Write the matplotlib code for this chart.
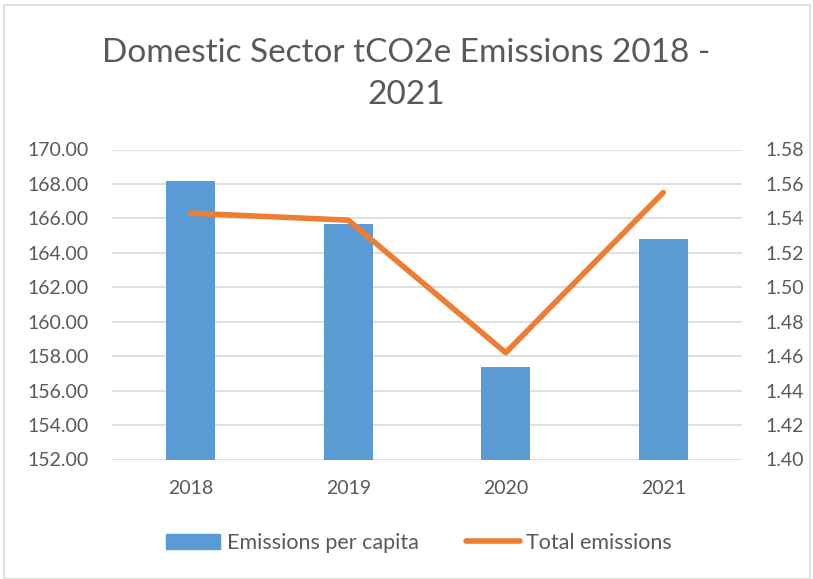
import matplotlib
matplotlib.use("Agg")
import matplotlib.pyplot as plt
from matplotlib.patches import Rectangle
from matplotlib.lines import Line2D

years = ["2018", "2019", "2020", "2021"]
per_capita = [168.2, 165.7, 157.4, 164.8]
total_emissions = [1.543, 1.539, 1.462, 1.555]
left_ticks = [152, 154, 156, 158, 160, 162, 164, 166, 168, 170]
right_ticks = [1.40, 1.42, 1.44, 1.46, 1.48, 1.50, 1.52, 1.54, 1.56, 1.58]
title = "Domestic Sector tCO2e Emissions 2018 -\n2021"

plt.rcParams['font.family'] = ['Lato', 'DejaVu Sans']
TXT = "#595959"
GRID = "#D9D9D9"
BLUE = "#5B9BD5"
ORANGE = "#ED7D31"

fig = plt.figure(figsize=(8.13, 5.79), dpi=100)
fig.patches.append(Rectangle((4/813, 0), 806/813, 1 - 5/579, transform=fig.transFigure,
                             fill=False, edgecolor=GRID, linewidth=1.2))

ax = fig.add_axes([112/813, 1 - 459.5/579, 630/813, 310/579])
x = range(len(years))
ax.bar(x, per_capita, width=0.31, color=BLUE, zorder=2)
ax.set_ylim(152, 170)
ax.set_yticks(left_ticks)
ax.set_yticklabels([f"{v:.2f}" for v in left_ticks])
ax.set_xlim(-0.5, len(years) - 0.5)
ax.set_xticks(list(x))
ax.set_xticklabels(years)
ax.grid(axis='y', color=GRID, linewidth=1.2, zorder=0)
ax.set_axisbelow(True)
for s in ax.spines.values():
    s.set_visible(False)
ax.tick_params(axis='both', length=0, labelsize=14, labelcolor=TXT)
ax.tick_params(axis='y', pad=17)
ax.tick_params(axis='x', pad=15)

ax2 = ax.twinx()
ax2.plot(list(x), total_emissions, color=ORANGE, linewidth=4, solid_capstyle='round', zorder=3)
ax2.set_ylim(1.40, 1.58)
ax2.set_yticks(right_ticks)
ax2.set_yticklabels([f"{v:.2f}" for v in right_ticks])
for s in ax2.spines.values():
    s.set_visible(False)
ax2.tick_params(axis='y', length=0, labelsize=14, labelcolor=TXT, pad=17)

fig.text(0.5, 1 - 74/579, title, ha='center', va='center', fontsize=24, color=TXT,
         linespacing=1.5)

handles = [Rectangle((0, 0), 1, 1, color=BLUE),
           Line2D([0], [0], color=ORANGE, linewidth=4, solid_capstyle='round')]
fig.legend(handles, ["Emissions per capita", "Total emissions"], loc='center',
           bbox_to_anchor=(419/813, 1 - 543/579), ncol=2, frameon=False,
           fontsize=15.5, labelcolor=TXT, handlelength=2.5, handletextpad=0.3,
           columnspacing=2.2)

fig.savefig("out.png", dpi=100)
